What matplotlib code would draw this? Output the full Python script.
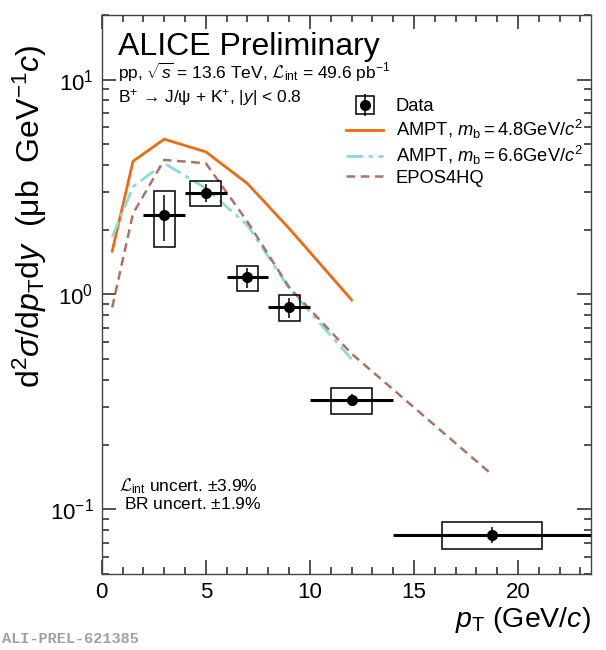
import numpy as np
import matplotlib
matplotlib.use("Agg")
import matplotlib.pyplot as plt
from matplotlib.patches import Rectangle
from matplotlib.lines import Line2D
from matplotlib.ticker import LogLocator, MultipleLocator, NullFormatter

plt.rcParams['font.family'] = ['Liberation Sans', 'DejaVu Sans']
plt.rcParams['mathtext.fontset'] = 'custom'
plt.rcParams['mathtext.rm'] = 'Liberation Sans'
plt.rcParams['mathtext.it'] = 'Liberation Sans:italic'
plt.rcParams['mathtext.bf'] = 'Liberation Sans:bold'
plt.rcParams['mathtext.sf'] = 'Liberation Sans'
plt.rcParams['mathtext.cal'] = 'cmsy10'

# B+ cross section data
pt = [3, 5, 7, 9, 12, 18.75]
pt_lo = [2, 4, 6, 8, 10, 14]
pt_hi = [4, 6, 8, 10, 14, 23.5]
xsec = [2.34, 2.97, 1.20, 0.872, 0.323, 0.0762]
stat = [0.56, 0.29, 0.13, 0.095, 0.022, 0.0065]
syst = [0.68, 0.40, 0.16, 0.12, 0.045, 0.0107]
box_halfw = [0.5, 0.75, 0.5, 0.5, 1.0, 2.4]

# model curves
ampt48_pt = [0.5, 1.5, 3, 5, 7, 9, 12]
ampt48 = [1.59, 4.17, 5.28, 4.61, 3.28, 2.03, 0.944]
ampt66_pt = [0.5, 1.5, 3, 5, 7, 9, 12]
ampt66 = [1.85, 3.17, 4.08, 3.12, 2.10, 1.07, 0.50]
epos_pt = [0.5, 1.5, 3, 5, 7, 9, 12, 18.75]
epos = [0.87, 2.38, 4.23, 4.08, 2.18, 1.08, 0.53, 0.145]

c_orange = '#ee6a10'
c_cyan = '#8ed8d8'
c_brown = '#a87565'

fig = plt.figure(figsize=(6.06, 6.5), dpi=100)
ax = fig.add_axes([0.168, 0.117, 0.807, 0.860])

ax.plot(ampt48_pt, ampt48, color=c_orange, lw=2, label=r'AMPT, $m_{\mathrm{b}} = 4.8 \mathrm{GeV}/c^{2}$')
ax.plot(ampt66_pt, ampt66, color=c_cyan, lw=2, ls=(0, (6, 2, 1.5, 2)),
        label=r'AMPT, $m_{\mathrm{b}} = 6.6 \mathrm{GeV}/c^{2}$')
ax.plot(epos_pt, epos, color=c_brown, lw=1.8, ls=(0, (3.5, 2.2)), label='EPOS4HQ')

# systematic boxes
for x, y, s, w in zip(pt, xsec, syst, box_halfw):
    ax.add_patch(Rectangle((x - w, y - s), 2 * w, 2 * s, fill=False,
                           edgecolor='black', lw=1.1, zorder=4))

xerr = [np.array(pt) - np.array(pt_lo), np.array(pt_hi) - np.array(pt)]
ax.errorbar(pt, xsec, xerr=xerr, fmt='none', ecolor='black', elinewidth=2.2, capsize=0, zorder=5)
ax.errorbar(pt, xsec, yerr=stat, fmt='o', color='black', ms=7, elinewidth=1.1, capsize=0, zorder=6)

ax.set_yscale('log')
ax.set_xlim(0, 23.5)
ax.set_ylim(0.05, 20)
ax.xaxis.set_major_locator(MultipleLocator(5))
ax.xaxis.set_minor_locator(MultipleLocator(1))
ax.yaxis.set_major_locator(LogLocator(base=10, numticks=10))
ax.yaxis.set_minor_locator(LogLocator(base=10, subs=np.arange(2, 10), numticks=30))
ax.yaxis.set_minor_formatter(NullFormatter())
ax.tick_params(which='both', direction='in', top=True, right=True, labelsize=16,
               width=1.1, color='#222222')
ax.tick_params(which='major', length=10, pad=6)
ax.tick_params(which='minor', length=5)
for sp in ax.spines.values():
    sp.set_color('#444444')
    sp.set_linewidth(1.0)

ax.set_xlabel(r'$p_{\mathrm{T}}$ (GeV/$c$)', fontsize=20.5, loc='right', labelpad=1)
ax.set_ylabel(r'$\mathrm{d}^{2}\sigma/\mathrm{d}p_{\mathrm{T}}\mathrm{d}y\ \ (\mathrm{\mu b\ \ GeV}^{-1}c)$',
              fontsize=23)
ax.yaxis.set_label_coords(-0.108, 0.64)

ax.text(0.033, 0.928, 'ALICE Preliminary', transform=ax.transAxes, fontsize=23, va='baseline')
ax.text(0.033, 0.885, r'pp, $\sqrt{s}$ = 13.6 TeV, $\mathcal{L}_{\mathrm{int}}$ = 49.6 pb$^{-1}$',
        transform=ax.transAxes, fontsize=12.5, va='baseline')
ax.text(0.033, 0.843, 'B$^{+}$ \u2192 J/\u03c8 + K$^{+}$, |$y$| < 0.8',
        transform=ax.transAxes, fontsize=12.5, va='baseline')
ax.text(0.035, 0.148, r'$\mathcal{L}_{\mathrm{int}}$ uncert. $\pm$3.9%', transform=ax.transAxes,
        fontsize=12.5, va='baseline')
ax.text(0.045, 0.116, r'BR uncert. $\pm$1.9%', transform=ax.transAxes, fontsize=12.5, va='baseline')

data_handle = (Line2D([], [], marker='s', ms=13, mfc='none', mec='black', mew=1.1, ls='none'),
               Line2D([], [], marker='|', ms=16, mec='black', mew=1.1, ls='none'),
               Line2D([], [], marker='o', ms=7, color='black', ls='none'))
h, l = ax.get_legend_handles_labels()
ax.legend([data_handle] + h, ['Data'] + l, loc='upper left', bbox_to_anchor=(0.5, 0.851),
          frameon=False, fontsize=13.2, handlelength=2.0, handletextpad=0.7,
          labelspacing=0.15, borderpad=0, borderaxespad=0)

fig.text(0.003, 0.0165, 'ALI-PREL-621385', fontsize=11, color='#a0a0a0',
         family='Liberation Mono', weight='bold', va='center')

fig.savefig('out.png', dpi=100)
